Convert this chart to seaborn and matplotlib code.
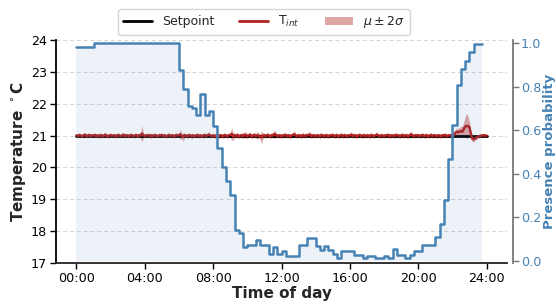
import numpy as np
import pandas as pd
import matplotlib
matplotlib.use("Agg")
import matplotlib.pyplot as plt
from matplotlib.patches import Patch
from matplotlib.lines import Line2D
import seaborn as sns

# ---------------- data ----------------
# presence probability, quarter-hour steps (hours 0.00 ... 23.75)
presence_prob = [
    0.985, 0.985, 0.985, 0.985,                      # 00:00-01:00
    1.0, 1.0, 1.0, 1.0, 1.0, 1.0, 1.0, 1.0, 1.0, 1.0,
    1.0, 1.0, 1.0, 1.0, 1.0, 1.0, 1.0, 1.0, 1.0, 1.0,  # 01:00-06:00
    0.876, 0.789, 0.713, 0.704, 0.668, 0.768, 0.668, 0.690,  # 06:00-08:00
    0.618, 0.519, 0.431, 0.367, 0.304, 0.140, 0.128, 0.064,  # 08:00-10:00
    0.075, 0.075, 0.095, 0.075, 0.075, 0.033, 0.064, 0.033,  # 10:00-12:00
    0.044, 0.021, 0.021, 0.021, 0.075, 0.075, 0.106, 0.106,  # 12:00-14:00
    0.066, 0.048, 0.066, 0.048, 0.033, 0.013, 0.043, 0.043,  # 14:00-16:00
    0.043, 0.025, 0.025, 0.013, 0.022, 0.022, 0.013, 0.013,  # 16:00-18:00
    0.022, 0.013, 0.056, 0.025, 0.025, 0.013, 0.025, 0.043,  # 18:00-20:00
    0.043, 0.074, 0.074, 0.074, 0.109, 0.170, 0.280, 0.470,  # 20:00-22:00
    0.625, 0.808, 0.882, 0.917, 0.960, 0.995, 0.995, 0.995,  # 22:00-24:00
]
presence_hours = [k * 0.25 for k in range(len(presence_prob))]

# setpoint
setpoint_hours = [0.0, 24.0]
setpoint_temp = [21.0, 21.0]

# indoor temperature mean, 5-minute resolution (00:00 ... 24:00)
temp_mean = [
    21.01, 20.98, 21.02, 21.00, 20.97, 21.01, 21.03, 20.98, 21.00, 21.02, 20.97, 21.01,
    21.00, 21.02, 20.98, 21.01, 20.97, 21.02, 21.00, 20.98, 21.03, 21.01, 20.97, 21.00,
    21.02, 20.98, 21.01, 21.00, 20.97, 21.02, 21.01, 20.98, 21.00, 21.03, 20.98, 21.01,
    21.00, 20.97, 21.02, 21.01, 20.98, 21.00, 21.02, 20.97, 21.01, 21.00, 21.06, 21.01,
    20.98, 21.01, 21.00, 21.02, 20.97, 21.01, 20.98, 21.02, 21.00, 20.97, 21.01, 21.00,
    21.02, 20.98, 21.01, 20.97, 21.00, 21.02, 20.98, 21.01, 21.00, 20.97, 21.02, 21.00,
    21.01, 21.04, 20.98, 20.96, 21.01, 21.00, 20.97, 21.02, 21.00, 20.98, 21.01, 20.97,
    21.00, 21.02, 20.98, 21.01, 20.97, 21.00, 21.02, 20.98, 21.01, 21.03, 21.00, 20.98,
    21.01, 20.97, 21.00, 21.02, 20.98, 21.01, 21.00, 20.97, 21.02, 21.00, 20.98, 21.01,
    21.02, 21.05, 20.97, 21.01, 20.98, 21.02, 20.97, 21.00, 21.01, 20.98, 21.03, 21.01,
    20.98, 21.01, 21.03, 20.97, 21.00, 21.02, 20.98, 21.01, 21.00, 20.97, 20.94, 21.00,
    21.01, 20.98, 21.02, 21.00, 20.97, 21.01, 21.00, 21.05, 21.02, 20.98, 21.01, 21.00,
    20.97, 21.01, 21.00, 21.02, 20.98, 21.01, 20.97, 21.00, 21.02, 21.04, 21.00, 20.98,
    21.01, 21.00, 20.97, 21.02, 20.98, 21.01, 21.00, 21.02, 21.03, 20.98, 21.01, 21.00,
    20.98, 21.01, 21.00, 20.97, 21.02, 21.00, 20.98, 21.01, 21.00, 20.97, 21.01, 21.00,
    21.02, 20.98, 21.00, 21.01, 20.97, 21.00, 21.02, 20.98, 21.01, 21.00, 20.98, 21.01,
    21.00, 21.03, 20.98, 21.01, 21.00, 20.97, 21.01, 21.02, 20.98, 21.00, 21.01, 20.98,
    21.01, 21.00, 20.97, 21.02, 21.00, 20.98, 21.01, 21.03, 21.00, 20.97, 21.01, 21.00,
    20.98, 21.01, 21.00, 21.02, 20.97, 21.01, 21.00, 20.98, 21.02, 21.00, 21.01, 20.98,
    21.00, 21.02, 20.98, 21.01, 21.00, 20.97, 21.01, 21.04, 21.00, 20.98, 21.01, 21.00,
    21.01, 20.98, 21.00, 21.02, 20.98, 21.00, 21.01, 20.97, 21.00, 21.02, 20.98, 21.01,
    21.00, 20.98, 21.01, 21.00, 20.97, 21.01, 21.00, 21.02, 20.98, 21.00, 21.01, 21.00,
    21.01, 21.00, 21.08, 21.12, 21.10, 21.12, 21.14, 21.12, 21.20, 21.28, 21.30, 21.30,
    21.26, 21.05, 20.90, 20.88, 20.91, 20.94, 20.97, 20.98, 21.00, 21.00, 21.01, 21.00,
    21.00,
]
# two-sigma half width of the band
temp_two_sigma = [
    .05, .04, .06, .05, .04, .06, .07, .05, .04, .06, .05, .04,
    .05, .06, .04, .05, .07, .05, .04, .06, .05, .04, .06, .05,
    .04, .06, .05, .07, .05, .04, .06, .05, .04, .05, .06, .05,
    .06, .05, .04, .06, .05, .07, .05, .04, .06, .09, .25, .07,
    .05, .04, .06, .05, .07, .05, .04, .06, .05, .04, .06, .05,
    .06, .05, .04, .06, .05, .07, .05, .04, .06, .05, .07, .05,
    .06, .16, .07, .14, .06, .05, .07, .06, .05, .08, .06, .05,
    .06, .05, .07, .06, .05, .07, .06, .05, .07, .09, .06, .05,
    .06, .07, .05, .06, .08, .06, .05, .07, .06, .05, .07, .06,
    .07, .20, .12, .07, .06, .08, .07, .06, .07, .09, .07, .11,
    .07, .06, .08, .07, .06, .09, .07, .13, .07, .09, .20, .08,
    .06, .07, .08, .06, .07, .08, .07, .15, .08, .07, .06, .07,
    .07, .06, .08, .07, .06, .07, .08, .06, .07, .11, .07, .06,
    .07, .06, .08, .07, .06, .07, .06, .08, .09, .07, .06, .07,
    .06, .07, .06, .08, .07, .06, .07, .06, .08, .07, .06, .07,
    .07, .06, .08, .07, .06, .07, .06, .07, .08, .06, .07, .06,
    .06, .09, .07, .06, .08, .07, .06, .07, .06, .08, .07, .06,
    .07, .06, .08, .07, .06, .07, .06, .09, .07, .06, .07, .06,
    .06, .07, .06, .08, .07, .06, .07, .06, .08, .07, .06, .07,
    .07, .06, .07, .06, .08, .07, .06, .11, .07, .06, .07, .06,
    .06, .07, .06, .07, .06, .08, .07, .06, .07, .06, .07, .06,
    .06, .07, .06, .07, .06, .07, .06, .07, .06, .07, .06, .07,
    .05, .06, .09, .11, .13, .13, .15, .17, .23, .31, .40, .30,
    .18, .11, .09, .07, .06, .06, .05, .05, .04, .04, .04, .04,
    .04,
]
temp_hours = [i * 5 / 60 for i in range(len(temp_mean))]

x_ticks = [0, 4, 8, 12, 16, 20, 24]
x_tick_labels = ["00:00", "04:00", "08:00", "12:00", "16:00", "20:00", "24:00"]
temp_ticks = [17, 18, 19, 20, 21, 22, 23, 24]
prob_ticks = [0.0, 0.2, 0.4, 0.6, 0.8, 1.0]

# ---------------- style ----------------
sns.set_style("ticks")
plt.rcParams["font.family"] = ["DejaVu Sans"]

BLUE = "#4682b4"
RED = "#b22222"

fig = plt.figure(figsize=(5.56, 3.05), dpi=100)
ax = fig.add_axes([0.1007, 0.1377, 0.8112, 0.7312])
ax2 = ax.twinx()

df_t = pd.DataFrame({"h": temp_hours, "mean": temp_mean, "s2": temp_two_sigma})
df_sp = pd.DataFrame({"h": setpoint_hours, "T": setpoint_temp})
df_p = pd.DataFrame({"h": presence_hours, "p": presence_prob})

# temperature axis
ax.fill_between(df_t["h"], df_t["mean"] - df_t["s2"], df_t["mean"] + df_t["s2"],
                color=RED, alpha=0.4, linewidth=0, zorder=2)
sns.lineplot(data=df_sp, x="h", y="T", ax=ax, color="black", linewidth=2.0,
             estimator=None, zorder=3)
sns.lineplot(data=df_t, x="h", y="mean", ax=ax, color=RED, linewidth=1.8,
             estimator=None, zorder=4)

# presence axis
ax2.fill_between(df_p["h"], 0, df_p["p"], step="post", color=BLUE, alpha=0.1,
                 linewidth=0, zorder=1)
sns.lineplot(data=df_p, x="h", y="p", ax=ax2, color=BLUE, linewidth=1.8,
             drawstyle="steps-post", estimator=None, zorder=2)

ax.set_xlim(-1.2, 25.2)
ax.set_ylim(17, 24)
ax2.set_ylim(-0.01, 1.015)

ax.set_xticks(x_ticks)
ax.set_xticklabels(x_tick_labels)
ax.set_yticks(temp_ticks)
ax2.set_yticks(prob_ticks)
ax2.set_yticklabels([f"{v:.1f}" for v in prob_ticks])

ax.yaxis.grid(True, linestyle=(0, (4, 3)), color="#d3d3d3", linewidth=0.7)
ax.set_axisbelow(True)

ax.tick_params(axis="both", labelsize=9.2, colors="black", length=4, width=1,
               pad=2.5)
ax2.tick_params(axis="y", labelsize=9.2, colors="#777777", labelcolor=BLUE,
                length=4, width=1, pad=2)

ax.set_xlabel("Time of day", fontsize=11, fontweight="bold", labelpad=1)
ax.set_ylabel("Temperature $^\\circ$C", fontsize=11, fontweight="bold", labelpad=2)
ax2.set_ylabel("Presence probability", fontsize=9.5, fontweight="bold",
               color=BLUE, labelpad=1)

ax.spines["top"].set_visible(False)
ax.spines["right"].set_visible(False)
ax.spines["left"].set_linewidth(1.3)
ax.spines["bottom"].set_linewidth(1.3)
ax.spines["left"].set_color("black")
ax.spines["bottom"].set_color("#222222")
for s in ["top", "left", "bottom"]:
    ax2.spines[s].set_visible(False)
ax2.spines["right"].set_position(("outward", 4))
ax2.spines["right"].set_color("#777777")
ax2.spines["right"].set_linewidth(1.3)

handles = [
    Line2D([0], [0], color="black", linewidth=2.0),
    Line2D([0], [0], color=RED, linewidth=2.0),
    Patch(facecolor=RED, alpha=0.4, edgecolor="none"),
]
labels = ["Setpoint", "T$_{int}$", "$\\mu \\pm 2\\sigma$"]
fig.legend(handles, labels, loc="upper center", bbox_to_anchor=(0.475, 0.99),
           ncol=3, fontsize=9, frameon=True, fancybox=True, edgecolor="#cccccc",
           handlelength=2.3)

fig.savefig("out.png", dpi=100)
